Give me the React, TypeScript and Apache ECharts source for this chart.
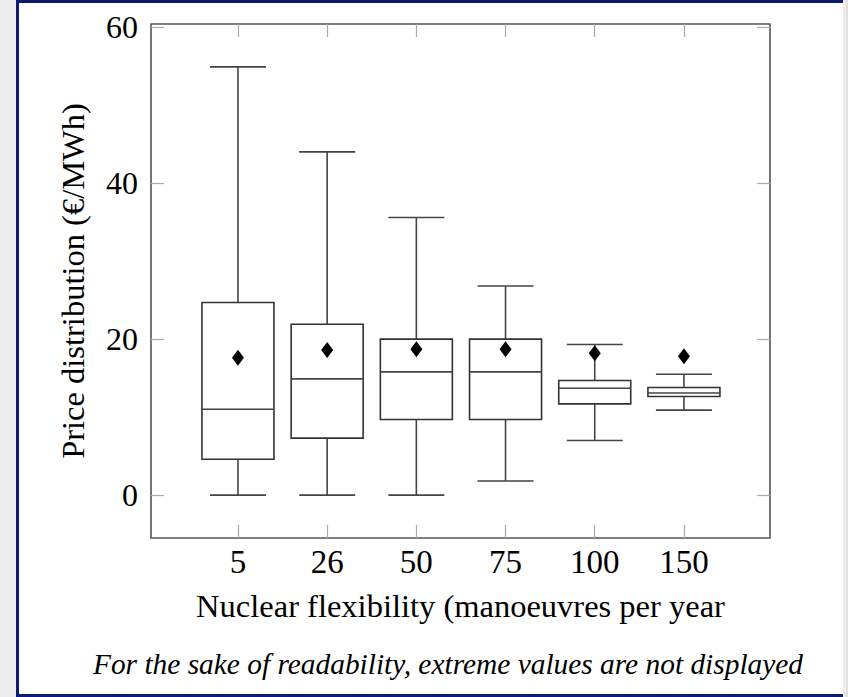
import React, { useEffect, useRef } from "react";
import * as echarts from "echarts";

const categories = ["5", "26", "50", "75", "100", "150"];
const whiskerLow = [0, 0, 0, 1.8, 7.0, 10.9];
const q1 = [4.6, 7.3, 9.7, 9.7, 11.7, 12.65];
const median = [11.0, 14.9, 15.8, 15.8, 13.7, 13.1];
const q3 = [24.7, 21.9, 20.0, 20.0, 14.7, 13.8];
const whiskerHigh = [54.9, 44.0, 35.6, 26.8, 19.3, 15.5];
const means = [17.6, 18.6, 18.7, 18.7, 18.2, 17.8];
const yTicks = [0, 20, 40, 60];

const xName = "Nuclear flexibility (manoeuvres per year";
const yName = "Price distribution (€/MWh)";
const caption = "For the sake of readability, extreme values are not displayed";

const FONT = "'Liberation Serif', 'DejaVu Serif', serif";

export default function App() {
  const ref = useRef<HTMLDivElement>(null);

  useEffect(() => {
    if (!ref.current) return;
    const chart = echarts.init(ref.current, undefined, { renderer: "svg" });
    const xPos = categories.map((_, i) => i + 1);
    const boxData = categories.map((_, i) => [
      i + 1,
      whiskerLow[i],
      q1[i],
      median[i],
      q3[i],
      whiskerHigh[i],
    ]);
    const meanData = categories.map((_, i) => [i + 1, means[i]]);

    const tickStyle = { show: true, inside: true, length: 13, lineStyle: { color: "#aaaaaa", width: 1.2 } };

    const option: any = {
      animation: false,
      backgroundColor: "transparent",
      grid: {
        left: 151,
        top: 24,
        width: 619,
        height: 514,
        show: true,
        borderColor: "#555555",
        borderWidth: 1.6,
        backgroundColor: "transparent",
      },
      xAxis: [
        {
          type: "value",
          min: 0.025,
          max: 6.965,
          position: "bottom",
          axisLine: { show: false, onZero: false },
          splitLine: { show: false },
          axisTick: { ...tickStyle, customValues: xPos },
          axisLabel: {
            customValues: xPos,
            formatter: (v: number) => categories[Math.round(v) - 1] ?? "",
            fontFamily: FONT,
            fontSize: 33,
            color: "#000",
            margin: 7,
          },
          name: xName,
          nameLocation: "middle",
          nameGap: 51,
          nameTextStyle: { fontFamily: FONT, fontSize: 32.5, color: "#000" },
        },
        {
          type: "value",
          min: 0.025,
          max: 6.965,
          position: "top",
          axisLine: { show: false, onZero: false },
          splitLine: { show: false },
          axisTick: { ...tickStyle, customValues: xPos },
          axisLabel: { show: false },
        },
      ],
      yAxis: [
        {
          type: "value",
          min: -5.5,
          max: 60.4,
          position: "left",
          axisLine: { show: false, onZero: false },
          splitLine: { show: false },
          axisTick: { ...tickStyle, customValues: yTicks },
          axisLabel: {
            customValues: yTicks,
            fontFamily: FONT,
            fontSize: 32,
            color: "#000",
            margin: 13,
          },
          name: yName,
          nameLocation: "middle",
          nameGap: 62,
          nameTextStyle: { fontFamily: FONT, fontSize: 32.5, color: "#000" },
        },
        {
          type: "value",
          min: -5.5,
          max: 60.4,
          position: "right",
          axisLine: { show: false, onZero: false },
          splitLine: { show: false },
          axisTick: { ...tickStyle, customValues: yTicks },
          axisLabel: { show: false },
        },
      ],
      series: [
        {
          type: "custom",
          xAxisIndex: 0,
          yAxisIndex: 0,
          data: boxData,
          encode: { x: 0, y: [1, 2, 3, 4, 5] },
          renderItem: (params: any, api: any) => {
            const x = api.value(0);
            const lo = api.coord([x, api.value(1)]);
            const b1 = api.coord([x, api.value(2)]);
            const md = api.coord([x, api.value(3)]);
            const b3 = api.coord([x, api.value(4)]);
            const hi = api.coord([x, api.value(5)]);
            const cx = lo[0];
            const bw = 36;
            const cw = 28;
            const stroke = { stroke: "#444444", lineWidth: 1.6, fill: "none" };
            return {
              type: "group",
              children: [
                { type: "line", shape: { x1: cx, y1: hi[1], x2: cx, y2: b3[1] }, style: stroke },
                { type: "line", shape: { x1: cx, y1: b1[1], x2: cx, y2: lo[1] }, style: stroke },
                { type: "line", shape: { x1: cx - cw, y1: hi[1], x2: cx + cw, y2: hi[1] }, style: stroke },
                { type: "line", shape: { x1: cx - cw, y1: lo[1], x2: cx + cw, y2: lo[1] }, style: stroke },
                {
                  type: "rect",
                  shape: { x: cx - bw, y: b3[1], width: 2 * bw, height: b1[1] - b3[1] },
                  style: { stroke: "#333333", lineWidth: 1.6, fill: "#ffffff" },
                },
                { type: "line", shape: { x1: cx - bw, y1: md[1], x2: cx + bw, y2: md[1] }, style: stroke },
              ],
            };
          },
          z: 2,
        },
        {
          type: "scatter",
          xAxisIndex: 0,
          yAxisIndex: 0,
          data: meanData,
          symbol: "diamond",
          symbolSize: [12, 16],
          itemStyle: { color: "#000000", opacity: 1 },
          z: 3,
        },
      ],
      graphic: [
        {
          type: "text",
          x: 448,
          y: 664,
          style: {
            text: caption,
            fontFamily: FONT,
            fontStyle: "italic",
            fontSize: 29.4,
            fill: "#000",
            textAlign: "center",
            textVerticalAlign: "middle",
          },
        },
      ],
    };
    chart.setOption(option);
    return () => chart.dispose();
  }, []);

  return (
    <div style={{ position: "fixed", left: 0, top: 0, width: 848, height: 697, background: "#ececec" }}>
      <div
        style={{
          position: "absolute",
          left: 16,
          top: 0,
          width: 827,
          height: 697,
          background: "#ffffff",
          borderLeft: "3px solid #0c1c73",
          borderTop: "3px solid #0c1c73",
          borderBottom: "3px solid #0c1c73",
          boxSizing: "border-box",
        }}
      />
      <div style={{ position: "absolute", left: 846, top: 0, width: 2, height: 697, background: "#e0e0e0" }} />
      <div ref={ref} style={{ position: "absolute", left: 0, top: 0, width: 848, height: 697 }} />
    </div>
  );
}
